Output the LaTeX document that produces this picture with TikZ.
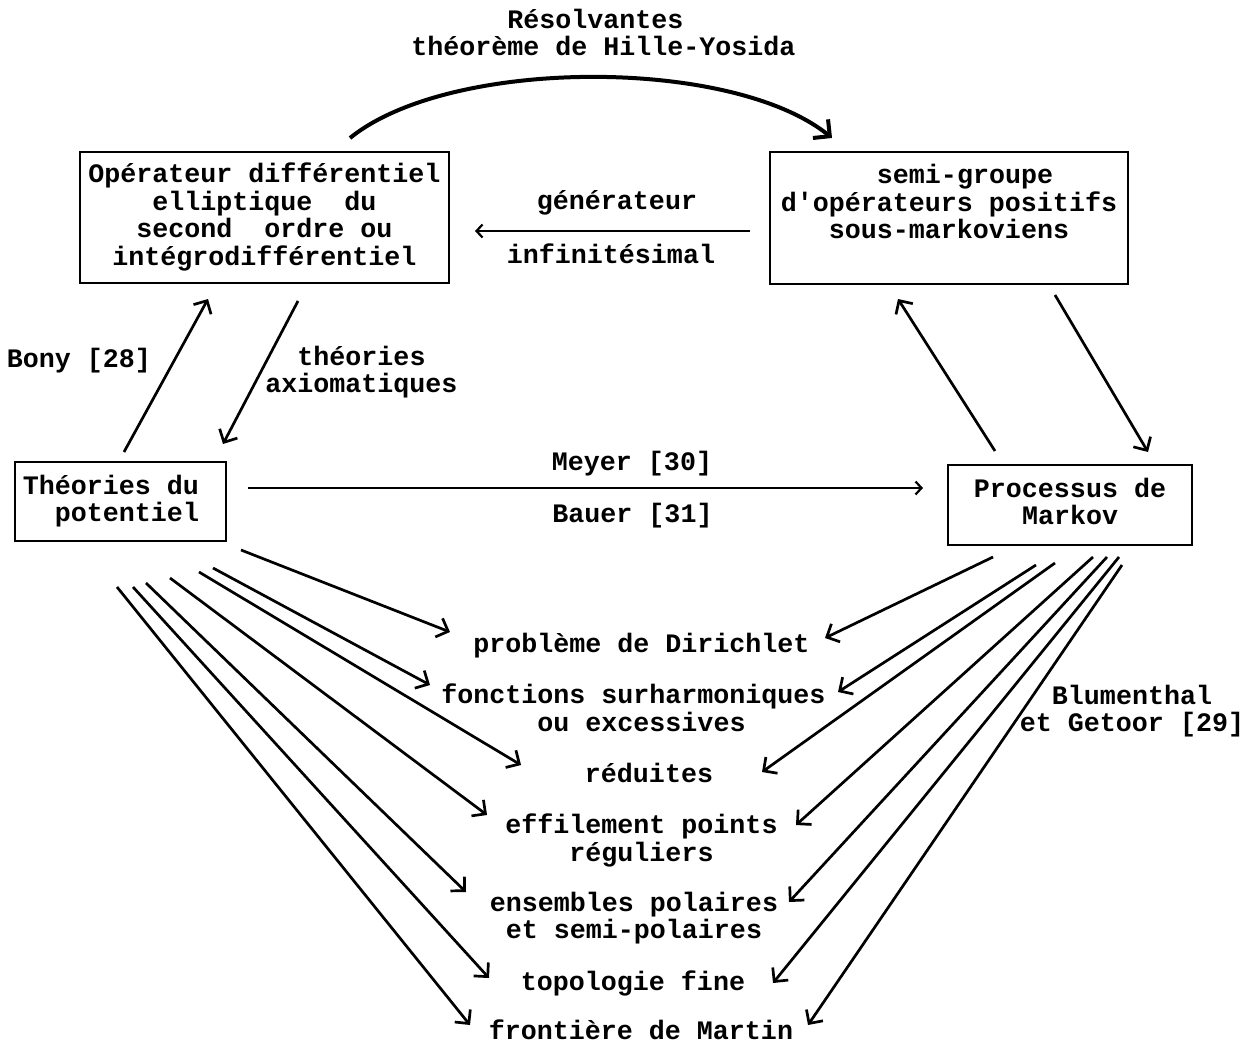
\documentclass[tikz,border=0pt]{standalone}
\usepackage{fontspec}
\setmainfont{Liberation Mono}
\usetikzlibrary{arrows.meta,calc}
\newcommand\mystrut{\rule[-7pt]{0pt}{26pt}}
\begin{document}
\begin{tikzpicture}[x=1pt,y=-1pt,
  every node/.style={font={\fontsize{26.67pt}{26pt}\selectfont\bfseries}, inner sep=0pt, align=center},
  box/.style={draw, line width=2.8pt},
  arr/.style={line width=2.7pt, -{Straight Barb[length=10pt,width=20pt]}},
  smallarr/.style={line width=2.2pt, -{Straight Barb[length=6pt,width=13pt]}},
  bigarr/.style={line width=4pt, -{Straight Barb[length=12pt,width=24pt]}},
]
\fill[white] (0,0) rectangle (1260,1043);
\useasboundingbox (0,0) rectangle (1260,1043);

% boxes
\node[box, minimum width=369pt, minimum height=131pt] (op) at (264.5,217.5)
  {\mystrut Opérateur différentiel\\\mystrut elliptique\ \ du\\\mystrut second\ \ ordre ou\\\mystrut intégrodifférentiel};
\node[box, minimum width=358pt, minimum height=132pt] (sg) at (949,218)
  {\mystrut\hphantom{xx}semi-groupe\\\mystrut d\textquotesingle opérateurs positifs\\\mystrut sous-markoviens\\\mystrut};
\node[box, minimum width=211pt, minimum height=79pt, align=right] (pot) at (120.5,501.5)
  {\mystrut Théories du\rule{19pt}{0pt}\\\mystrut potentiel\rule{19pt}{0pt}};
\node[box, minimum width=244pt, minimum height=80pt] (mk) at (1070,505)
  {\mystrut Processus de\\\mystrut Markov};

% labels
\node (title) at (603.5,36) {\mystrut Résolvantes\hphantom{x}\\\mystrut théorème de Hille-Yosida};
\node (gen) at (617,204) {\mystrut générateur};
\node (inf) at (611,257) {\mystrut infinitésimal};
\node (bony) at (79,361) {\mystrut Bony [28]};
\node (axio) at (361.5,373) {\mystrut théories\\\mystrut axiomatiques};
\node (meyer) at (632,464) {\mystrut Meyer [30]};
\node (bauer) at (632.5,516) {\mystrut Bauer [31]};
\node (blum) at (1132,712) {\mystrut Blumenthal\\\mystrut et Getoor [29]};

% targets
\node (dir) at (641.5,646) {\mystrut problème de Dirichlet};
\node (fonc) at (633.5,711) {\mystrut fonctions surharmoniques\\\mystrut\hphantom{x}ou excessives};
\node (red) at (649,776) {\mystrut réduites};
\node (eff) at (641.5,841) {\mystrut effilement points\\\mystrut réguliers};
\node (ens) at (634,919) {\mystrut ensembles polaires\\\mystrut et semi-polaires};
\node (topo) at (633,984) {\mystrut topologie fine};
\node (front) at (641,1029.5) {frontière de Martin};

% top connectors
\draw[bigarr] ($(op)+(85.5,-79.5)$) .. controls ($(op)+(185.5,-160.5)$) and ($(sg)+(-217,-161)$) .. ($(sg)+(-117,-80)$);
\draw[smallarr] ($(sg)+(-199,13)$) -- ($(op)+(210.5,13.5)$);
\draw[arr] ($(pot)+(3.5,-49.5)$) -- ($(op)+(-56.5,81.5)$);
\draw[arr] ($(op)+(33.5,83.5)$) -- ($(pot)+(102.5,-57.5)$);
\draw[smallarr] ($(pot)+(127.5,-13.5)$) -- ($(mk)+(-147,-17)$);
\draw[arr] ($(mk)+(-75,-54)$) -- ($(sg)+(-51,81)$);
\draw[arr] ($(sg)+(106,77)$) -- ($(mk)+(78,-53)$);

% left fan
\draw[arr] ($(pot)+(120.5,48.5)$) -- ($(dir)+(-191.5,-14)$);
\draw[arr] ($(pot)+(92.5,66.5)$) -- ($(fonc)+(-203.5,-26)$);
\draw[arr] ($(pot)+(78.5,70.5)$) -- ($(red)+(-128,-11)$);
\draw[arr] ($(pot)+(49.5,76.5)$) -- ($(eff)+(-154.5,-26)$);
\draw[arr] ($(pot)+(25.5,81.5)$) -- ($(ens)+(-168,-27)$);
\draw[arr] ($(pot)+(12.5,85.5)$) -- ($(topo)+(-144,-6)$);
\draw[arr] ($(pot)+(-3.5,85.5)$) -- ($(front)+(-171,-4.5)$);

% right fan
\draw[arr] ($(mk)+(-77,52)$) -- ($(dir)+(183.5,-8)$);
\draw[arr] ($(mk)+(-34,60)$) -- ($(fonc)+(204.5,-19)$);
\draw[arr] ($(mk)+(-15,58)$) -- ($(red)+(113,-4)$);
\draw[arr] ($(mk)+(23,52)$) -- ($(eff)+(154.5,-16)$);
\draw[arr] ($(mk)+(37,52)$) -- ($(ens)+(155,-17)$);
\draw[arr] ($(mk)+(49,52)$) -- ($(topo)+(140,-1)$);
\draw[arr] ($(mk)+(52,60)$) -- ($(front)+(167,-4.5)$);
\end{tikzpicture}
\end{document}
